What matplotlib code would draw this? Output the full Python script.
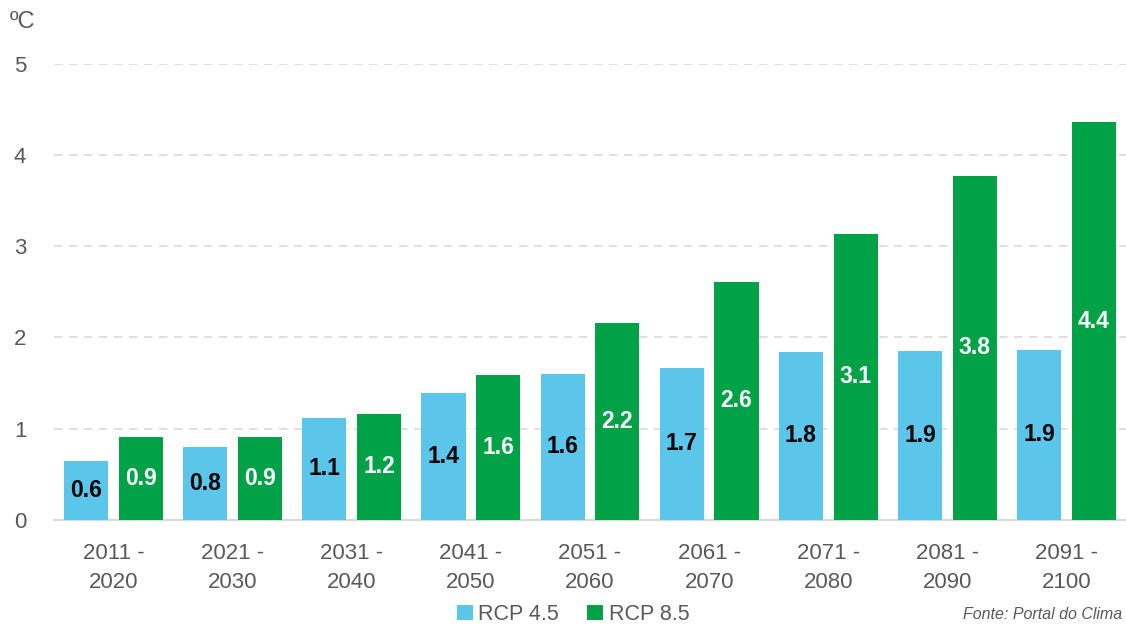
import matplotlib.pyplot as plt
import numpy as np

periods = ['2011 -\n2020', '2021 -\n2030', '2031 -\n2040', '2041 -\n2050', '2051 -\n2060',
           '2061 -\n2070', '2071 -\n2080', '2081 -\n2090', '2091 -\n2100']
rcp45 = [0.65, 0.80, 1.12, 1.39, 1.60, 1.67, 1.84, 1.85, 1.86]
rcp85 = [0.91, 0.91, 1.16, 1.59, 2.16, 2.61, 3.14, 3.77, 4.36]
labels45 = ['0.6', '0.8', '1.1', '1.4', '1.6', '1.7', '1.8', '1.9', '1.9']
labels85 = ['0.9', '0.9', '1.2', '1.6', '2.2', '2.6', '3.1', '3.8', '4.4']

BLUE = '#5BC5EA'
GREEN = '#00A147'
GREY = '#595959'

plt.rcParams['font.family'] = ['Liberation Sans', 'DejaVu Sans']

fig = plt.figure(figsize=(11.26, 6.27), dpi=100)
ax = fig.add_axes([0.048, 0.171, 0.952, 0.727])

x = np.arange(len(periods))
off = 0.23
w = 0.37
b45 = ax.bar(x - off, rcp45, w, color=BLUE, label='RCP 4.5', zorder=3)
b85 = ax.bar(x + off, rcp85, w, color=GREEN, label='RCP 8.5', zorder=3)

for bar, txt in zip(b45, labels45):
    ax.text(bar.get_x() + bar.get_width() / 2, bar.get_height() / 2, txt,
            ha='center', va='center', fontsize=16.5, fontweight='bold', color='black', zorder=4)
for bar, txt in zip(b85, labels85):
    ax.text(bar.get_x() + bar.get_width() / 2, bar.get_height() / 2, txt,
            ha='center', va='center', fontsize=16.5, fontweight='bold', color='white', zorder=4)

ax.set_xlim(-0.5, len(periods) - 0.5)
ax.set_ylim(0, 5)
ax.set_yticks([0, 1, 2, 3, 4, 5])
ax.set_xticks(x)
ax.set_xticklabels(periods, linespacing=1.45)
ax.tick_params(axis='both', length=0, labelsize=16, labelcolor=GREY)
ax.tick_params(axis='x', pad=17)
ax.tick_params(axis='y', pad=20)
ax.yaxis.grid(True, color='#D9D9D9', linestyle=(0, (5, 4)), linewidth=1.2, zorder=0)
for s in ['top', 'right', 'left']:
    ax.spines[s].set_visible(False)
ax.spines['bottom'].set_color('#D9D9D9')
ax.spines['bottom'].set_linewidth(1.5)

fig.text(0.009, 0.965, 'ºC', fontsize=17, color=GREY, ha='left', va='center')
fig.legend(handles=[b45, b85], loc='center', bbox_to_anchor=(0.509, 0.02), ncol=2,
           frameon=False, fontsize=15.5, handlelength=0.75, handleheight=0.75,
           handletextpad=0.25, columnspacing=1.3, labelcolor=GREY, borderpad=0.1)
fig.text(0.997, 0.02, 'Fonte: Portal do Clima', fontsize=11.5, style='italic',
         color=GREY, ha='right', va='center')

fig.savefig('out.png', dpi=100)
